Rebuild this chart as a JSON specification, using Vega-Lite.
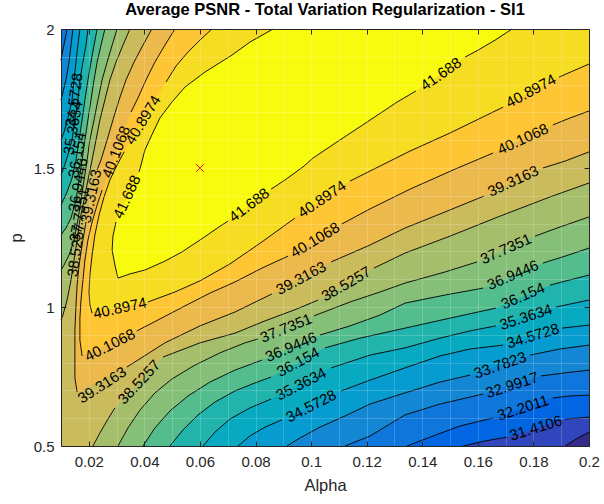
{
  "$schema": "https://vega.github.io/schema/vega-lite/v6.json",
  "width": 528,
  "height": 417,
  "autosize": "none",
  "padding": {"left": 61, "top": 29, "right": 15, "bottom": 58},
  "title": {"text": "Average PSNR - Total Variation Regularization - SI1", "font": "Liberation Sans", "fontSize": 16.5, "fontWeight": "bold", "color": "#000000", "anchor": "middle", "offset": 4},
  "config": {
    "font": "Liberation Sans",
    "view": {"fill": "#352a87", "stroke": null},
    "axis": {"labelFont": "Liberation Sans", "labelFontSize": 15, "labelColor": "#262626", "titleFont": "Liberation Sans", "titleFontSize": 16.5, "titleFontWeight": "normal", "titleColor": "#262626", "domainColor": "#262626", "tickColor": "#262626", "domainWidth": 1, "tickWidth": 1}
  },
  "datasets": {
    "regions": [
      {"k":0,"o":1,"a":0.01,"p":2},{"k":0,"o":2,"a":0.01,"p":0.5},{"k":0,"o":3,"a":0.1914,"p":0.5,"s":"0a"},{"k":0,"o":4,"a":0.196,"p":0.529,"s":"0a"},{"k":0,"o":5,"a":0.2,"p":0.55,"s":"0a"},{"k":0,"o":6,"a":0.2,"p":2},

      {"k":1,"o":1,"a":0.01,"p":2},{"k":1,"o":2,"a":0.01,"p":0.5},{"k":1,"o":3,"a":0.1547,"p":0.5,"s":"1a"},{"k":1,"o":4,"a":0.1626,"p":0.518,"s":"1a"},{"k":1,"o":5,"a":0.1705,"p":0.532,"s":"1a"},{"k":1,"o":6,"a":0.1914,"p":0.597,"s":"1b"},{"k":1,"o":7,"a":0.1968,"p":0.601,"s":"1b"},{"k":1,"o":8,"a":0.2,"p":0.604,"s":"1b"},{"k":1,"o":9,"a":0.2,"p":2},

      {"k":2,"o":1,"a":0.01,"p":2},{"k":2,"o":2,"a":0.01,"p":0.5},{"k":2,"o":3,"a":0.1345,"p":0.5,"s":"2a"},{"k":2,"o":4,"a":0.1428,"p":0.532,"s":"2a"},{"k":2,"o":5,"a":0.1536,"p":0.572,"s":"2a"},{"k":2,"o":6,"a":0.1655,"p":0.601,"s":"2a"},{"k":2,"o":7,"a":0.187,"p":0.673,"s":"2b"},{"k":2,"o":8,"a":0.1932,"p":0.68,"s":"2b"},{"k":2,"o":9,"a":0.2,"p":0.683,"s":"2b"},{"k":2,"o":10,"a":0.2,"p":2},

      {"k":3,"o":1,"a":0.0122,"p":2,"s":"3t"},{"k":3,"o":2,"a":0.0114,"p":1.96,"s":"3t"},{"k":3,"o":3,"a":0.0107,"p":1.924,"s":"3t"},{"k":3,"o":4,"a":0.01,"p":1.888,"s":"3t"},{"k":3,"o":5,"a":0.01,"p":0.5},
      {"k":3,"o":6,"a":0.1122,"p":0.5,"s":"3a"},{"k":3,"o":7,"a":0.1212,"p":0.536,"s":"3a"},{"k":3,"o":8,"a":0.1338,"p":0.612,"s":"3a"},{"k":3,"o":9,"a":0.1464,"p":0.651,"s":"3a"},{"k":3,"o":10,"a":0.1619,"p":0.687,"s":"3a"},{"k":3,"o":11,"a":0.1827,"p":0.752,"s":"3b"},{"k":3,"o":12,"a":0.1914,"p":0.763,"s":"3b"},{"k":3,"o":13,"a":0.2,"p":0.773,"s":"3b"},{"k":3,"o":14,"a":0.2,"p":2},

      {"k":4,"o":1,"a":0.0143,"p":2,"s":"4t"},{"k":4,"o":2,"a":0.0136,"p":1.942,"s":"4t"},{"k":4,"o":3,"a":0.0129,"p":1.881,"s":"4t"},{"k":4,"o":4,"a":0.0118,"p":1.817,"s":"4t"},{"k":4,"o":5,"a":0.0107,"p":1.773,"s":"4t"},{"k":4,"o":6,"a":0.01,"p":1.745,"s":"4t"},{"k":4,"o":7,"a":0.01,"p":0.5},
      {"k":4,"o":8,"a":0.0913,"p":0.5,"s":"4a"},{"k":4,"o":9,"a":0.096,"p":0.529,"s":"4a"},{"k":4,"o":10,"a":0.1032,"p":0.568,"s":"4a"},{"k":4,"o":11,"a":0.1122,"p":0.608,"s":"4a"},{"k":4,"o":12,"a":0.1212,"p":0.651,"s":"4a"},{"k":4,"o":13,"a":0.1338,"p":0.691,"s":"4a"},{"k":4,"o":14,"a":0.1464,"p":0.73,"s":"4a"},{"k":4,"o":15,"a":0.1572,"p":0.755,"s":"4a"},{"k":4,"o":16,"a":0.1788,"p":0.827,"s":"4b"},{"k":4,"o":17,"a":0.1896,"p":0.849,"s":"4b"},{"k":4,"o":18,"a":0.2,"p":0.863,"s":"4b"},{"k":4,"o":19,"a":0.2,"p":2},

      {"k":5,"o":1,"a":0.0168,"p":2,"s":"5t"},{"k":5,"o":2,"a":0.0161,"p":1.942,"s":"5t"},{"k":5,"o":3,"a":0.0154,"p":1.881,"s":"5t"},{"k":5,"o":4,"a":0.0147,"p":1.817,"s":"5t"},{"k":5,"o":5,"a":0.014,"p":1.745,"s":"5t"},{"k":5,"o":6,"a":0.0125,"p":1.68,"s":"5t"},{"k":5,"o":7,"a":0.0111,"p":1.629,"s":"5t"},{"k":5,"o":8,"a":0.01,"p":1.601,"s":"5t"},{"k":5,"o":9,"a":0.01,"p":0.5},
      {"k":5,"o":10,"a":0.0737,"p":0.5,"s":"5a"},{"k":5,"o":11,"a":0.078,"p":0.536,"s":"5a"},{"k":5,"o":12,"a":0.0834,"p":0.568,"s":"5a"},{"k":5,"o":13,"a":0.0895,"p":0.594,"s":"5a"},{"k":5,"o":14,"a":0.1108,"p":0.698,"s":"5b"},{"k":5,"o":15,"a":0.1212,"p":0.737,"s":"5b"},{"k":5,"o":16,"a":0.1338,"p":0.781,"s":"5b"},{"k":5,"o":17,"a":0.1464,"p":0.824,"s":"5b"},{"k":5,"o":18,"a":0.1572,"p":0.849,"s":"5b"},{"k":5,"o":19,"a":0.1691,"p":0.863,"s":"5b"},{"k":5,"o":20,"a":0.1903,"p":0.924,"s":"5c"},{"k":5,"o":21,"a":0.2,"p":0.935,"s":"5c"},{"k":5,"o":22,"a":0.2,"p":2},

      {"k":6,"o":1,"a":0.0197,"p":2,"s":"6t"},{"k":6,"o":2,"a":0.019,"p":1.942,"s":"6t"},{"k":6,"o":3,"a":0.0179,"p":1.881,"s":"6t"},{"k":6,"o":4,"a":0.0168,"p":1.817,"s":"6t"},{"k":6,"o":5,"a":0.0161,"p":1.745,"s":"6t"},{"k":6,"o":6,"a":0.015,"p":1.673,"s":"6t"},{"k":6,"o":7,"a":0.014,"p":1.601,"s":"6t"},{"k":6,"o":8,"a":0.0125,"p":1.547,"s":"6t"},{"k":6,"o":9,"a":0.0111,"p":1.504,"s":"6t"},{"k":6,"o":10,"a":0.01,"p":1.475,"s":"6t"},{"k":6,"o":11,"a":0.01,"p":0.5},
      {"k":6,"o":12,"a":0.0611,"p":0.5,"s":"6a"},{"k":6,"o":13,"a":0.0654,"p":0.55,"s":"6a"},{"k":6,"o":14,"a":0.0708,"p":0.597,"s":"6a"},{"k":6,"o":15,"a":0.078,"p":0.637,"s":"6a"},{"k":6,"o":16,"a":0.0856,"p":0.669,"s":"6a"},{"k":6,"o":17,"a":0.1072,"p":0.781,"s":"6b"},{"k":6,"o":18,"a":0.1212,"p":0.827,"s":"6b"},{"k":6,"o":19,"a":0.1338,"p":0.853,"s":"6b"},{"k":6,"o":20,"a":0.1464,"p":0.888,"s":"6b"},{"k":6,"o":21,"a":0.1572,"p":0.914,"s":"6b"},{"k":6,"o":22,"a":0.1665,"p":0.932,"s":"6b"},{"k":6,"o":23,"a":0.1881,"p":1.0,"s":"6c"},{"k":6,"o":24,"a":0.2,"p":1.025,"s":"6c"},{"k":6,"o":25,"a":0.2,"p":2},

      {"k":7,"o":1,"a":0.023,"p":2,"s":"7t"},{"k":7,"o":2,"a":0.0219,"p":1.942,"s":"7t"},{"k":7,"o":3,"a":0.0208,"p":1.881,"s":"7t"},{"k":7,"o":4,"a":0.0197,"p":1.817,"s":"7t"},{"k":7,"o":5,"a":0.0186,"p":1.745,"s":"7t"},{"k":7,"o":6,"a":0.0176,"p":1.673,"s":"7t"},{"k":7,"o":7,"a":0.0165,"p":1.601,"s":"7t"},{"k":7,"o":8,"a":0.0154,"p":1.529,"s":"7t"},{"k":7,"o":9,"a":0.014,"p":1.464,"s":"7t"},{"k":7,"o":10,"a":0.0122,"p":1.414,"s":"7t"},{"k":7,"o":11,"a":0.01,"p":1.367,"s":"7t"},{"k":7,"o":12,"a":0.01,"p":0.5},
      {"k":7,"o":13,"a":0.0492,"p":0.5,"s":"7a"},{"k":7,"o":14,"a":0.0539,"p":0.558,"s":"7a"},{"k":7,"o":15,"a":0.0593,"p":0.612,"s":"7a"},{"k":7,"o":16,"a":0.0654,"p":0.658,"s":"7a"},{"k":7,"o":17,"a":0.0726,"p":0.698,"s":"7a"},{"k":7,"o":18,"a":0.0798,"p":0.727,"s":"7a"},{"k":7,"o":19,"a":0.0856,"p":0.748,"s":"7a"},{"k":7,"o":20,"a":0.105,"p":0.853,"s":"7b"},{"k":7,"o":21,"a":0.1176,"p":0.888,"s":"7b"},{"k":7,"o":22,"a":0.1338,"p":0.924,"s":"7b"},{"k":7,"o":23,"a":0.15,"p":0.96,"s":"7b"},{"k":7,"o":24,"a":0.1665,"p":0.996,"s":"7b"},{"k":7,"o":25,"a":0.186,"p":1.079,"s":"7c"},{"k":7,"o":26,"a":0.2,"p":1.115,"s":"7c"},{"k":7,"o":27,"a":0.2,"p":2},

      {"k":8,"o":1,"a":0.0258,"p":2,"s":"8t"},{"k":8,"o":2,"a":0.0244,"p":1.942,"s":"8t"},{"k":8,"o":3,"a":0.023,"p":1.881,"s":"8t"},{"k":8,"o":4,"a":0.0219,"p":1.817,"s":"8t"},{"k":8,"o":5,"a":0.0208,"p":1.745,"s":"8t"},{"k":8,"o":6,"a":0.0197,"p":1.673,"s":"8t"},{"k":8,"o":7,"a":0.0186,"p":1.601,"s":"8t"},{"k":8,"o":8,"a":0.0176,"p":1.529,"s":"8t"},{"k":8,"o":9,"a":0.0165,"p":1.457,"s":"8t"},{"k":8,"o":10,"a":0.0154,"p":1.385,"s":"8t"},{"k":8,"o":11,"a":0.0136,"p":1.32,"s":"8t"},{"k":8,"o":12,"a":0.0118,"p":1.284,"s":"8t"},{"k":8,"o":13,"a":0.01,"p":1.259,"s":"8t"},{"k":8,"o":14,"a":0.01,"p":0.5},
      {"k":8,"o":15,"a":0.0395,"p":0.5,"s":"8a"},{"k":8,"o":16,"a":0.0438,"p":0.565,"s":"8a"},{"k":8,"o":17,"a":0.0492,"p":0.626,"s":"8a"},{"k":8,"o":18,"a":0.0557,"p":0.68,"s":"8a"},{"k":8,"o":19,"a":0.0636,"p":0.73,"s":"8a"},{"k":8,"o":20,"a":0.0726,"p":0.773,"s":"8a"},{"k":8,"o":21,"a":0.0823,"p":0.809,"s":"8a"},{"k":8,"o":22,"a":0.1032,"p":0.899,"s":"8b"},{"k":8,"o":23,"a":0.114,"p":0.932,"s":"8b"},{"k":8,"o":24,"a":0.1248,"p":0.971,"s":"8b"},{"k":8,"o":25,"a":0.1338,"p":1.014,"s":"8b"},{"k":8,"o":26,"a":0.1482,"p":1.043,"s":"8b"},{"k":8,"o":27,"a":0.1619,"p":1.068,"s":"8b"},{"k":8,"o":28,"a":0.1834,"p":1.158,"s":"8c"},{"k":8,"o":29,"a":0.1914,"p":1.183,"s":"8c"},{"k":8,"o":30,"a":0.2,"p":1.212,"s":"8c"},{"k":8,"o":31,"a":0.2,"p":2},

      {"k":9,"o":1,"a":0.0302,"p":2,"s":"9t"},{"k":9,"o":2,"a":0.0284,"p":1.942,"s":"9t"},{"k":9,"o":3,"a":0.0266,"p":1.881,"s":"9t"},{"k":9,"o":4,"a":0.0248,"p":1.817,"s":"9t"},{"k":9,"o":5,"a":0.0233,"p":1.745,"s":"9t"},{"k":9,"o":6,"a":0.0219,"p":1.673,"s":"9t"},{"k":9,"o":7,"a":0.0204,"p":1.601,"s":"9t"},{"k":9,"o":8,"a":0.0194,"p":1.529,"s":"9t"},{"k":9,"o":9,"a":0.0183,"p":1.457,"s":"9t"},{"k":9,"o":10,"a":0.0172,"p":1.385,"s":"9t"},{"k":9,"o":11,"a":0.0161,"p":1.313,"s":"9t"},{"k":9,"o":12,"a":0.0147,"p":1.241,"s":"9t"},{"k":9,"o":13,"a":0.0129,"p":1.187,"s":"9t"},{"k":9,"o":14,"a":0.0111,"p":1.151,"s":"9t"},{"k":9,"o":15,"a":0.01,"p":1.133,"s":"9t"},{"k":9,"o":16,"a":0.01,"p":0.5},
      {"k":9,"o":17,"a":0.0305,"p":0.5,"s":"9a"},{"k":9,"o":18,"a":0.0341,"p":0.565,"s":"9a"},{"k":9,"o":19,"a":0.0384,"p":0.629,"s":"9a"},{"k":9,"o":20,"a":0.0438,"p":0.691,"s":"9a"},{"k":9,"o":21,"a":0.0499,"p":0.741,"s":"9a"},{"k":9,"o":22,"a":0.0582,"p":0.791,"s":"9a"},{"k":9,"o":23,"a":0.0672,"p":0.835,"s":"9a"},{"k":9,"o":24,"a":0.0762,"p":0.871,"s":"9a"},{"k":9,"o":25,"a":0.0809,"p":0.885,"s":"9a"},{"k":9,"o":26,"a":0.101,"p":0.968,"s":"9b"},{"k":9,"o":27,"a":0.114,"p":1.018,"s":"9b"},{"k":9,"o":28,"a":0.1248,"p":1.054,"s":"9b"},{"k":9,"o":29,"a":0.1338,"p":1.086,"s":"9b"},{"k":9,"o":30,"a":0.1482,"p":1.126,"s":"9b"},{"k":9,"o":31,"a":0.1597,"p":1.162,"s":"9b"},{"k":9,"o":32,"a":0.1806,"p":1.255,"s":"9c"},{"k":9,"o":33,"a":0.1896,"p":1.288,"s":"9c"},{"k":9,"o":34,"a":0.2,"p":1.324,"s":"9c"},{"k":9,"o":35,"a":0.2,"p":2},

      {"k":10,"o":1,"a":0.0348,"p":2,"s":"10t"},{"k":10,"o":2,"a":0.0323,"p":1.942,"s":"10t"},{"k":10,"o":3,"a":0.0298,"p":1.881,"s":"10t"},{"k":10,"o":4,"a":0.0276,"p":1.817,"s":"10t"},{"k":10,"o":5,"a":0.0258,"p":1.745,"s":"10t"},{"k":10,"o":6,"a":0.024,"p":1.673,"s":"10t"},{"k":10,"o":7,"a":0.0226,"p":1.601,"s":"10t"},{"k":10,"o":8,"a":0.0212,"p":1.529,"s":"10t"},{"k":10,"o":9,"a":0.0197,"p":1.457,"s":"10t"},{"k":10,"o":10,"a":0.0183,"p":1.385,"s":"10t"},{"k":10,"o":11,"a":0.0168,"p":1.313,"s":"10t"},{"k":10,"o":12,"a":0.0158,"p":1.241,"s":"10t"},{"k":10,"o":13,"a":0.0147,"p":1.169,"s":"10t"},{"k":10,"o":14,"a":0.0136,"p":1.097,"s":"10t"},{"k":10,"o":15,"a":0.0122,"p":1.025,"s":"10t"},{"k":10,"o":16,"a":0.0107,"p":0.971,"s":"10t"},{"k":10,"o":17,"a":0.01,"p":0.953,"s":"10t"},{"k":10,"o":18,"a":0.01,"p":0.5},
      {"k":10,"o":19,"a":0.0215,"p":0.5,"s":"10a"},{"k":10,"o":20,"a":0.024,"p":0.547,"s":"10a"},{"k":10,"o":21,"a":0.0269,"p":0.597,"s":"10a"},{"k":10,"o":22,"a":0.0294,"p":0.637,"s":"10a"},{"k":10,"o":23,"a":0.0467,"p":0.82,"s":"10b"},{"k":10,"o":24,"a":0.06,"p":0.871,"s":"10b"},{"k":10,"o":25,"a":0.0726,"p":0.906,"s":"10b"},{"k":10,"o":26,"a":0.0834,"p":0.95,"s":"10b"},{"k":10,"o":27,"a":0.0949,"p":0.993,"s":"10b"},{"k":10,"o":28,"a":0.1025,"p":1.025,"s":"10b"},{"k":10,"o":29,"a":0.1226,"p":1.14,"s":"10c"},{"k":10,"o":30,"a":0.1338,"p":1.194,"s":"10c"},{"k":10,"o":31,"a":0.15,"p":1.255,"s":"10c"},{"k":10,"o":32,"a":0.168,"p":1.327,"s":"10c"},{"k":10,"o":33,"a":0.186,"p":1.396,"s":"10c"},{"k":10,"o":34,"a":0.2,"p":1.446,"s":"10c"},{"k":10,"o":35,"a":0.2,"p":2},

      {"k":11,"o":1,"a":0.0427,"p":2,"s":"11t"},{"k":11,"o":2,"a":0.0395,"p":1.942,"s":"11t"},{"k":11,"o":3,"a":0.0363,"p":1.881,"s":"11t"},{"k":11,"o":4,"a":0.0334,"p":1.817,"s":"11t"},{"k":11,"o":5,"a":0.0309,"p":1.745,"s":"11t"},{"k":11,"o":6,"a":0.0287,"p":1.673,"s":"11t"},{"k":11,"o":7,"a":0.0266,"p":1.601,"s":"11t"},{"k":11,"o":8,"a":0.0244,"p":1.529,"s":"11t"},{"k":11,"o":9,"a":0.023,"p":1.493,"s":"11t"},
      {"k":11,"o":10,"a":0.019,"p":1.306,"s":"11u"},{"k":11,"o":11,"a":0.0176,"p":1.223,"s":"11u"},{"k":11,"o":12,"a":0.0165,"p":1.151,"s":"11u"},{"k":11,"o":13,"a":0.0158,"p":1.079,"s":"11u"},{"k":11,"o":14,"a":0.0154,"p":1.007,"s":"11u"},{"k":11,"o":15,"a":0.015,"p":0.917,"s":"11u"},{"k":11,"o":16,"a":0.015,"p":0.827,"s":"11u"},{"k":11,"o":17,"a":0.015,"p":0.745,"s":"11u"},{"k":11,"o":18,"a":0.0158,"p":0.694,"s":"11u"},
      {"k":11,"o":19,"a":0.0337,"p":0.784,"s":"11a"},{"k":11,"o":20,"a":0.0474,"p":0.871,"s":"11a"},{"k":11,"o":21,"a":0.06,"p":0.932,"s":"11a"},{"k":11,"o":22,"a":0.0726,"p":0.982,"s":"11a"},{"k":11,"o":23,"a":0.0859,"p":1.047,"s":"11a"},{"k":11,"o":24,"a":0.1072,"p":1.162,"s":"11b"},{"k":11,"o":25,"a":0.1212,"p":1.223,"s":"11b"},{"k":11,"o":26,"a":0.1338,"p":1.284,"s":"11b"},{"k":11,"o":27,"a":0.1482,"p":1.342,"s":"11b"},{"k":11,"o":28,"a":0.1622,"p":1.399,"s":"11b"},{"k":11,"o":29,"a":0.1834,"p":1.5,"s":"11c"},{"k":11,"o":30,"a":0.1914,"p":1.525,"s":"11c"},{"k":11,"o":31,"a":0.2,"p":1.558,"s":"11c"},{"k":11,"o":32,"a":0.2,"p":2},

      {"k":12,"o":1,"a":0.051,"p":2,"s":"12t"},{"k":12,"o":2,"a":0.0474,"p":1.942,"s":"12t"},{"k":12,"o":3,"a":0.0438,"p":1.881,"s":"12t"},{"k":12,"o":4,"a":0.0406,"p":1.817,"s":"12t"},{"k":12,"o":5,"a":0.0377,"p":1.752,"s":"12t"},{"k":12,"o":6,"a":0.0352,"p":1.701,"s":"12t"},
      {"k":12,"o":7,"a":0.0248,"p":1.421,"s":"12u"},{"k":12,"o":8,"a":0.023,"p":1.367,"s":"12u"},{"k":12,"o":9,"a":0.0212,"p":1.306,"s":"12u"},{"k":12,"o":10,"a":0.0197,"p":1.241,"s":"12u"},{"k":12,"o":11,"a":0.0186,"p":1.169,"s":"12u"},{"k":12,"o":12,"a":0.0179,"p":1.097,"s":"12u"},{"k":12,"o":13,"a":0.0172,"p":1.025,"s":"12u"},{"k":12,"o":14,"a":0.0168,"p":0.96,"s":"12u"},{"k":12,"o":15,"a":0.0168,"p":0.881,"s":"12u"},{"k":12,"o":16,"a":0.0176,"p":0.824,"s":"12u"},
      {"k":12,"o":17,"a":0.0373,"p":0.914,"s":"12a"},{"k":12,"o":18,"a":0.0456,"p":0.957,"s":"12a"},{"k":12,"o":19,"a":0.0546,"p":1.004,"s":"12a"},{"k":12,"o":20,"a":0.0636,"p":1.05,"s":"12a"},{"k":12,"o":21,"a":0.0726,"p":1.09,"s":"12a"},{"k":12,"o":22,"a":0.0823,"p":1.14,"s":"12a"},{"k":12,"o":23,"a":0.0917,"p":1.183,"s":"12a"},{"k":12,"o":24,"a":0.1111,"p":1.299,"s":"12b"},{"k":12,"o":25,"a":0.1212,"p":1.353,"s":"12b"},{"k":12,"o":26,"a":0.1356,"p":1.424,"s":"12b"},{"k":12,"o":27,"a":0.1518,"p":1.496,"s":"12b"},{"k":12,"o":28,"a":0.1655,"p":1.554,"s":"12b"},{"k":12,"o":29,"a":0.187,"p":1.655,"s":"12c"},{"k":12,"o":30,"a":0.1932,"p":1.68,"s":"12c"},{"k":12,"o":31,"a":0.2,"p":1.705,"s":"12c"},{"k":12,"o":32,"a":0.2,"p":2},

      {"k":13,"o":1,"a":0.0643,"p":2,"s":"13t"},{"k":13,"o":2,"a":0.06,"p":1.96,"s":"13t"},{"k":13,"o":3,"a":0.0557,"p":1.917,"s":"13t"},{"k":13,"o":4,"a":0.0514,"p":1.867,"s":"13t"},{"k":13,"o":5,"a":0.0478,"p":1.809,"s":"13t"},
      {"k":13,"o":6,"a":0.0327,"p":1.558,"s":"13u"},{"k":13,"o":7,"a":0.0302,"p":1.511,"s":"13u"},{"k":13,"o":8,"a":0.0276,"p":1.457,"s":"13u"},{"k":13,"o":9,"a":0.0255,"p":1.396,"s":"13u"},{"k":13,"o":10,"a":0.0237,"p":1.331,"s":"13u"},{"k":13,"o":11,"a":0.0222,"p":1.259,"s":"13u"},{"k":13,"o":12,"a":0.0212,"p":1.187,"s":"13u"},{"k":13,"o":13,"a":0.0204,"p":1.115,"s":"13u"},{"k":13,"o":14,"a":0.0201,"p":1.054,"s":"13u"},{"k":13,"o":15,"a":0.0204,"p":1.007,"s":"13u"},{"k":13,"o":16,"a":0.0212,"p":0.978,"s":"13u"},
      {"k":13,"o":17,"a":0.0413,"p":1.018,"s":"13a"},{"k":13,"o":18,"a":0.051,"p":1.054,"s":"13a"},{"k":13,"o":19,"a":0.06,"p":1.094,"s":"13a"},{"k":13,"o":20,"a":0.0708,"p":1.155,"s":"13a"},{"k":13,"o":21,"a":0.0823,"p":1.234,"s":"13a"},{"k":13,"o":22,"a":0.0942,"p":1.32,"s":"13a"},{"k":13,"o":23,"a":0.114,"p":1.453,"s":"13b"},{"k":13,"o":24,"a":0.1212,"p":1.489,"s":"13b"},{"k":13,"o":25,"a":0.1356,"p":1.561,"s":"13b"},{"k":13,"o":26,"a":0.15,"p":1.626,"s":"13b"},{"k":13,"o":27,"a":0.1691,"p":1.719,"s":"13b"},{"k":13,"o":28,"a":0.1892,"p":1.827,"s":"13c"},{"k":13,"o":29,"a":0.2,"p":1.874,"s":"13c"},{"k":13,"o":30,"a":0.2,"p":2},

      {"k":14,"o":1,"a":0.0863,"p":2,"s":"14t"},{"k":14,"o":2,"a":0.078,"p":1.953,"s":"14t"},{"k":14,"o":3,"a":0.0715,"p":1.906,"s":"14t"},{"k":14,"o":4,"a":0.0618,"p":1.845,"s":"14t"},{"k":14,"o":5,"a":0.0546,"p":1.791,"s":"14t"},{"k":14,"o":6,"a":0.0499,"p":1.737,"s":"14t"},{"k":14,"o":7,"a":0.0456,"p":1.68,"s":"14t"},{"k":14,"o":8,"a":0.0427,"p":1.619,"s":"14t"},{"k":14,"o":9,"a":0.0402,"p":1.565,"s":"14t"},{"k":14,"o":10,"a":0.0388,"p":1.511,"s":"14t"},{"k":14,"o":11,"a":0.0381,"p":1.486,"s":"14t"},
      {"k":14,"o":12,"a":0.0298,"p":1.306,"s":"14u"},{"k":14,"o":13,"a":0.0287,"p":1.255,"s":"14u"},{"k":14,"o":14,"a":0.0284,"p":1.205,"s":"14u"},{"k":14,"o":15,"a":0.0294,"p":1.151,"s":"14u"},{"k":14,"o":16,"a":0.0305,"p":1.104,"s":"14u"},{"k":14,"o":17,"a":0.0348,"p":1.119,"s":"14u"},{"k":14,"o":18,"a":0.0402,"p":1.133,"s":"14u"},{"k":14,"o":19,"a":0.0474,"p":1.165,"s":"14u"},{"k":14,"o":20,"a":0.0535,"p":1.198,"s":"14u"},{"k":14,"o":21,"a":0.06,"p":1.241,"s":"14u"},{"k":14,"o":22,"a":0.0679,"p":1.295,"s":"14u"},{"k":14,"o":23,"a":0.0701,"p":1.309,"s":"14u"},
      {"k":14,"o":24,"a":0.0856,"p":1.424,"s":"14a"},{"k":14,"o":25,"a":0.0906,"p":1.457,"s":"14a"},{"k":14,"o":26,"a":0.0971,"p":1.504,"s":"14a"},{"k":14,"o":27,"a":0.1007,"p":1.536,"s":"14a"},{"k":14,"o":28,"a":0.1104,"p":1.601,"s":"14a"},{"k":14,"o":29,"a":0.1201,"p":1.665,"s":"14a"},{"k":14,"o":30,"a":0.1309,"p":1.737,"s":"14a"},{"k":14,"o":31,"a":0.1377,"p":1.777,"s":"14a"},
      {"k":14,"o":32,"a":0.1554,"p":1.899,"s":"14b"},{"k":14,"o":33,"a":0.1601,"p":1.924,"s":"14b"},{"k":14,"o":34,"a":0.1662,"p":1.96,"s":"14b"},{"k":14,"o":35,"a":0.1723,"p":2,"s":"14b"}
    ],
    "labels": [
      {"t":"31.4106","a":0.1809,"p":0.565,"r":-17},
      {"t":"32.2011","a":0.1762,"p":0.637,"r":-18},
      {"t":"32.9917","a":0.1723,"p":0.719,"r":-18},
      {"t":"33.7823","a":0.168,"p":0.791,"r":-19},
      {"t":"34.5728","a":0.1,"p":0.644,"r":-27},
      {"t":"34.5728","a":0.1798,"p":0.896,"r":-17},
      {"t":"34.5728","a":0.0147,"p":1.745,"r":-82},
      {"t":"35.3634","a":0.0964,"p":0.723,"r":-27},
      {"t":"35.3634","a":0.1773,"p":0.964,"r":-18},
      {"t":"35.3634","a":0.0143,"p":1.644,"r":-80},
      {"t":"36.154","a":0.0953,"p":0.802,"r":-28},
      {"t":"36.154","a":0.1762,"p":1.04,"r":-23},
      {"t":"36.154","a":0.0158,"p":1.547,"r":-80},
      {"t":"36.9446","a":0.0928,"p":0.856,"r":-23},
      {"t":"36.9446","a":0.1726,"p":1.115,"r":-23},
      {"t":"36.9446","a":0.0161,"p":1.439,"r":-80},
      {"t":"37.7351","a":0.091,"p":0.924,"r":-22},
      {"t":"37.7351","a":0.1701,"p":1.209,"r":-24},
      {"t":"37.7351","a":0.0165,"p":1.331,"r":-80},
      {"t":"38.5257","a":0.0381,"p":0.73,"r":-47},
      {"t":"38.5257","a":0.1126,"p":1.083,"r":-30},
      {"t":"38.5257","a":0.0154,"p":1.205,"r":-82},
      {"t":"39.3163","a":0.0208,"p":1.399,"r":-78},
      {"t":"39.3163","a":0.0248,"p":0.719,"r":-33},
      {"t":"39.3163","a":0.0964,"p":1.104,"r":-28},
      {"t":"39.3163","a":0.1727,"p":1.453,"r":-25},
      {"t":"40.1068","a":0.0298,"p":1.558,"r":-69},
      {"t":"40.1068","a":0.0276,"p":0.863,"r":-27},
      {"t":"40.1068","a":0.1014,"p":1.241,"r":-31},
      {"t":"40.1068","a":0.1762,"p":1.604,"r":-25},
      {"t":"40.8974","a":0.0395,"p":1.673,"r":-59},
      {"t":"40.8974","a":0.0312,"p":0.996,"r":-12},
      {"t":"40.8974","a":0.1039,"p":1.388,"r":-34},
      {"t":"40.8974","a":0.1791,"p":1.777,"r":-28},
      {"t":"41.688","a":0.0337,"p":1.396,"r":-65},
      {"t":"41.688","a":0.0777,"p":1.367,"r":-37},
      {"t":"41.688","a":0.1467,"p":1.838,"r":-35}
    ],
    "best": [{"a":0.06,"p":1.5}]
  },
  "layer": [
    {
      "data": {"name": "regions"},
      "mark": {"type": "line", "filled": true, "interpolate": "linear-closed", "strokeWidth": 0},
      "encoding": {
        "x": {"field": "a", "type": "quantitative", "scale": {"domain": [0.01, 0.2], "nice": false, "zero": false},
              "axis": {"orient": "bottom", "title": "Alpha", "values": [0.02,0.04,0.06,0.08,0.1,0.12,0.14,0.16,0.18,0.2], "format": "~g", "tickSize": -5, "labelPadding": 13, "labelFlush": false, "labelOverlap": false, "grid": false, "titlePadding": 8, "zindex": 2}},
        "y": {"field": "p", "type": "quantitative", "scale": {"domain": [0.5, 2], "nice": false, "zero": false},
              "axis": {"orient": "left", "title": "p", "values": [0.5, 1, 1.5, 2], "format": "~g", "tickSize": -5, "labelPadding": 12, "labelFlush": false, "labelOverlap": false, "grid": false, "titlePadding": 9, "zindex": 2}},
        "color": {"field": "k", "type": "ordinal", "legend": null,
                  "scale": {"domain": [0,1,2,3,4,5,6,7,8,9,10,11,12,13,14],
                            "range": ["#3145bc","#0265e1","#0f77db","#1387d3","#079ccf","#07aac1","#20b4ad","#54bd8e","#85bf78","#a5be6b","#cabb5c","#ecb94c","#fec535","#f6dd22","#f9fb0e"]}},
        "order": {"field": "o", "type": "quantitative"}
      }
    },
    {
      "data": {"name": "regions"},
      "transform": [{"filter": "datum.s != null"}],
      "mark": {"type": "line", "color": "#000000", "strokeWidth": 0.9},
      "encoding": {
        "x": {"field": "a", "type": "quantitative",
              "axis": {"orient": "top", "title": null, "labels": false, "values": [0.01,0.02,0.03,0.04,0.05,0.06,0.07,0.08,0.09,0.1,0.11,0.12,0.13,0.14,0.15,0.16,0.17,0.18,0.19,0.2],
                       "tickSize": {"condition": {"test": "round(datum.value*100) % 2 == 0", "value": -5}, "value": 0},
                       "grid": true, "gridColor": "#ffffff", "gridOpacity": 0.18, "gridWidth": 1, "zindex": 1}},
        "y": {"field": "p", "type": "quantitative",
              "axis": {"orient": "right", "title": null, "labels": false, "values": [0.5,0.6,0.7,0.8,0.9,1,1.1,1.2,1.3,1.4,1.5,1.6,1.7,1.8,1.9,2],
                       "tickSize": {"condition": {"test": "round(datum.value*10) % 5 == 0", "value": -5}, "value": 0},
                       "grid": true, "gridColor": "#ffffff", "gridOpacity": 0.18, "gridWidth": 1, "zindex": 1}},
        "detail": {"field": "s", "type": "nominal"},
        "order": {"field": "o", "type": "quantitative"}
      }
    },
    {
      "data": {"name": "labels"},
      "mark": {"type": "text", "font": "Liberation Sans", "fontSize": 15, "color": "#000000", "align": "center", "baseline": "middle"},
      "encoding": {
        "x": {"field": "a", "type": "quantitative", "axis": null},
        "y": {"field": "p", "type": "quantitative", "axis": null},
        "text": {"field": "t", "type": "nominal"},
        "angle": {"field": "r", "type": "quantitative", "scale": null}
      }
    },
    {
      "data": {"name": "best"},
      "mark": {"type": "point", "shape": "M-1,-1L1,1M-1,1L1,-1", "size": 60, "filled": false, "color": "#ff0000", "strokeWidth": 1, "opacity": 1},
      "encoding": {
        "x": {"field": "a", "type": "quantitative", "axis": null},
        "y": {"field": "p", "type": "quantitative", "axis": null}
      }
    }
  ],
  "resolve": {"axis": {"x": "independent", "y": "independent"}}
}
